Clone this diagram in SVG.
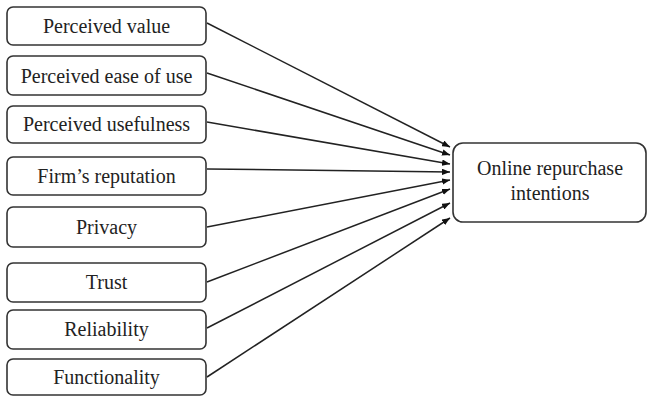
<svg xmlns="http://www.w3.org/2000/svg" width="648" height="397" viewBox="0 0 648 397">
<defs>
<style>
.box{fill:#fff;stroke:#333;stroke-width:1.6}
.t{font-family:'Liberation Serif','Times New Roman','DejaVu Serif',serif;font-size:20px;fill:#222;text-anchor:middle}
.c{stroke:#222;stroke-width:1.5;fill:none;marker-end:url(#ah)}
</style>
<marker id="ah" viewBox="0 0 10 8" refX="10" refY="4" markerWidth="8" markerHeight="6.4" markerUnits="userSpaceOnUse" orient="auto">
<path d="M0,0 L10,4 L0,8 z" fill="#111"/>
</marker>
</defs>
<rect width="648" height="397" fill="#fff"/>
<g id="connectors">
<line class="c" x1="207" y1="23" x2="450" y2="147"/>
<line class="c" x1="207" y1="73" x2="450" y2="155"/>
<line class="c" x1="207" y1="122" x2="450" y2="164"/>
<line class="c" x1="207" y1="169" x2="450" y2="172"/>
<line class="c" x1="207" y1="227" x2="450" y2="180"/>
<line class="c" x1="207" y1="282" x2="450" y2="189"/>
<line class="c" x1="207" y1="328" x2="450" y2="203"/>
<line class="c" x1="207" y1="377" x2="450" y2="218"/>
</g>
<g id="n1"><rect class="box" x="7" y="7" width="199" height="38" rx="6"/><text class="t" x="106.5" y="33">Perceived value</text></g>
<g id="n2"><rect class="box" x="7" y="56" width="199" height="39" rx="6"/><text class="t" x="106.5" y="82.5">Perceived ease of use</text></g>
<g id="n3"><rect class="box" x="7" y="106" width="199" height="37" rx="6"/><text class="t" x="106.5" y="131">Perceived usefulness</text></g>
<g id="n4"><rect class="box" x="7" y="157" width="199" height="38" rx="6"/><text class="t" x="106.5" y="183">Firm’s reputation</text></g>
<g id="n5"><rect class="box" x="7" y="207" width="199" height="40" rx="6"/><text class="t" x="106.5" y="234">Privacy</text></g>
<g id="n6"><rect class="box" x="7" y="263" width="199" height="39" rx="6"/><text class="t" x="106.5" y="289">Trust</text></g>
<g id="n7"><rect class="box" x="7" y="310" width="199" height="39" rx="6"/><text class="t" x="106.5" y="336">Reliability</text></g>
<g id="n8"><rect class="box" x="7" y="359" width="199" height="36" rx="6"/><text class="t" x="106.5" y="384">Functionality</text></g>
<g id="target"><rect class="box" x="453" y="143" width="193" height="79" rx="10"/><text class="t" x="550" y="175">Online repurchase</text><text class="t" x="550" y="200">intentions</text></g>
</svg>
